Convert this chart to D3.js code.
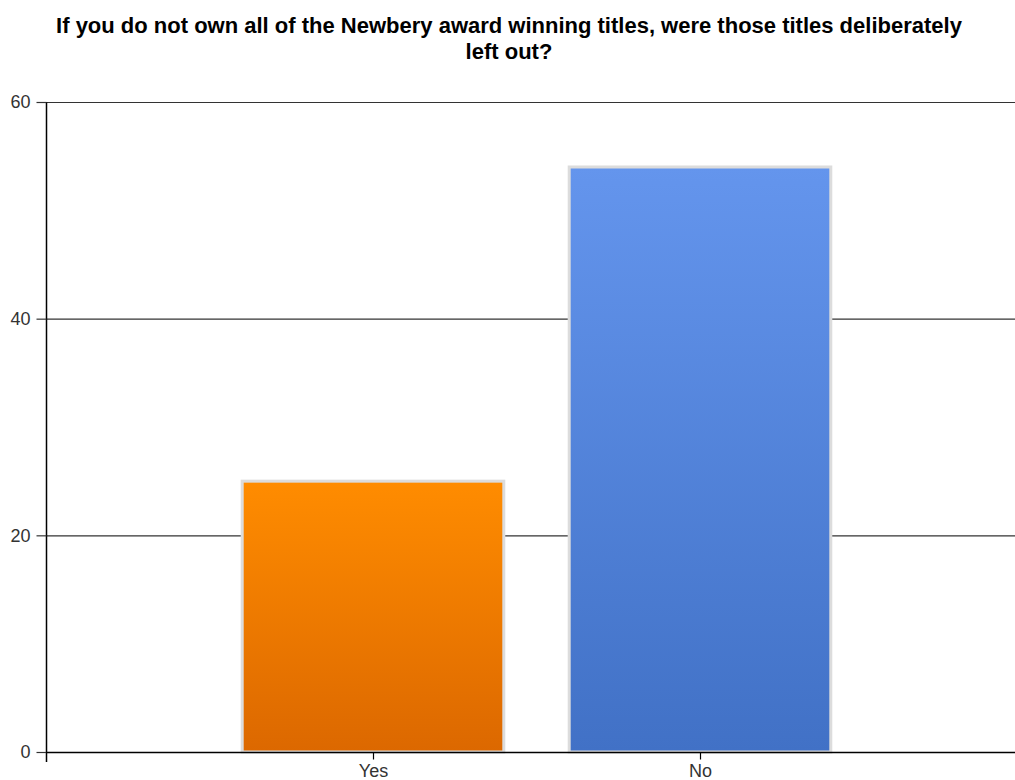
<!DOCTYPE html>
<html><head><meta charset="utf-8">
<script src="https://cdn.jsdelivr.net/npm/d3@7"></script>
<style>body{margin:0;background:#fff;} svg{display:block;}</style>
</head><body>
<svg id="chart" width="1015" height="780"></svg>
<script>
const titleLines = ["If you do not own all of the Newbery award winning titles, were those titles deliberately", "left out?"];
const categories = ["Yes", "No"];
const values = [25, 54];
const yTicks = [0, 20, 40, 60];
const colorsTop = ["#ff8c00", "#6495ed"];
const colorsBottom = ["#dc6800", "#4171c6"];

(function () {
const svg = d3.select("#chart");
const W = 1015, H = 780;
const pLeft = 46, pRight = 1027, pTop = 102, pBottom = 752;
const FONT = "Arial, 'Liberation Sans', sans-serif";

const x = d3.scalePoint().domain(categories).range([pLeft, pRight]).padding(1);
const y = d3.scaleLinear().domain([0, 60]).range([pBottom, pTop]);
const bw = x.step() * 0.8;

const defs = svg.append("defs");
categories.forEach((c, i) => {
  const g = defs.append("linearGradient").attr("id", "g" + i).attr("x1", 0).attr("y1", 0).attr("x2", 0).attr("y2", 1);
  g.append("stop").attr("offset", "0%").attr("stop-color", colorsTop[i]);
  g.append("stop").attr("offset", "100%").attr("stop-color", colorsBottom[i]);
});

// title
svg.append("text").attr("x", 509).attr("text-anchor", "middle")
  .style("font-family", FONT).style("font-weight", "bold").style("font-size", "22px")
  .attr("fill", "#000")
  .selectAll("tspan").data(titleLines).join("tspan")
  .attr("x", 509).attr("y", (d, i) => 33 + i * 26).text(d => d);

// gridlines
svg.append("g").selectAll("line").data(yTicks.filter(d => d > 0)).join("line")
  .attr("x1", pLeft).attr("x2", W).attr("y1", d => y(d) + 0.5).attr("y2", d => y(d) + 0.5)
  .attr("stroke", "#333").attr("stroke-width", 1.2);

// bars
svg.append("g").selectAll("rect").data(values).join("rect")
  .attr("x", (d, i) => x(categories[i]) - bw / 2)
  .attr("y", d => y(d))
  .attr("width", bw)
  .attr("height", d => pBottom - y(d))
  .attr("fill", (d, i) => `url(#g${i})`)
  .attr("stroke", "#dcdcdc").attr("stroke-width", 3);

// y axis
const yAxis = svg.append("g").attr("transform", `translate(${pLeft + 0.5},0)`)
  .call(d3.axisLeft(y).tickValues(yTicks).tickSize(10).tickPadding(6).tickSizeOuter(0));
yAxis.attr("font-size", null).attr("font-family", null);
yAxis.select(".domain").attr("d", `M0,${pTop}V${pBottom + 10}`).attr("stroke", "#000").attr("stroke-width", 1.5);
yAxis.selectAll(".tick line").attr("stroke", "#333").attr("stroke-width", 1.2);
yAxis.selectAll("text").style("font-family", FONT).style("font-size", "18px").attr("fill", "#333");

// x axis
const xAxis = svg.append("g").attr("transform", `translate(0,${pBottom + 0.5})`)
  .call(d3.axisBottom(x).tickSize(7).tickPadding(5).tickSizeOuter(0));
xAxis.attr("font-size", null).attr("font-family", null);
xAxis.select(".domain").attr("d", `M${pLeft},0H${W}`).attr("stroke", "#000").attr("stroke-width", 1.5);
xAxis.selectAll(".tick line").attr("stroke", "#000").attr("stroke-width", 1.2);
xAxis.selectAll("text").style("font-family", FONT).style("font-size", "18px").attr("fill", "#333");
})();
</script>
</body></html>
